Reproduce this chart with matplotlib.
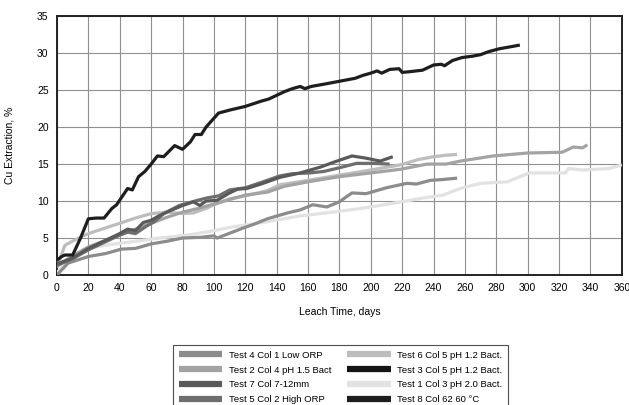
import numpy as np
import matplotlib.pyplot as plt

plt.rcParams["font.family"] = ["Liberation Sans", "DejaVu Sans"]

# leach curves: (days, Cu extraction %)
t8_days = [0, 3, 5, 10, 15, 20, 25, 30, 35, 38, 45, 48, 52, 56, 60, 64, 68, 75, 80, 85, 88, 92, 95, 100, 103,
           110, 120, 130, 135, 140, 145, 150, 155, 158, 162, 170, 180, 190, 195, 200, 204, 207, 212, 218, 220,
           225, 233, 240, 245, 247, 252, 258, 265, 270, 275, 282, 290, 295]
t8_cu = [2.0, 2.5, 2.7, 2.7, 5.0, 7.6, 7.7, 7.7, 9.0, 9.5, 11.7, 11.5, 13.3, 14.0, 15.0, 16.1, 16.0, 17.5, 17.0,
         18.0, 19.0, 19.0, 20.0, 21.2, 21.9, 22.3, 22.8, 23.5, 23.8, 24.3, 24.8, 25.2, 25.5, 25.2, 25.5, 25.8,
         26.2, 26.6, 27.0, 27.3, 27.6, 27.3, 27.8, 27.9, 27.4, 27.5, 27.7, 28.4, 28.5, 28.3, 29.0, 29.4, 29.6,
         29.8, 30.2, 30.6, 30.9, 31.1]

t7_days = [0, 10, 20, 30, 40, 45, 50, 55, 60, 65, 70, 80, 87, 91, 95, 102, 110, 115, 121, 130, 142, 155, 168,
           177, 188, 197, 206, 214]
t7_cu = [1.5, 2.3, 3.6, 4.6, 5.6, 6.2, 6.0, 7.1, 7.4, 8.0, 8.5, 9.4, 9.9, 9.4, 10.0, 10.1, 11.1, 11.6, 11.7,
         12.3, 13.2, 13.8, 14.6, 15.3, 16.1, 15.8, 15.4, 16.0]

t5_days = [0, 10, 20, 30, 40, 45, 50, 57, 62, 68, 78, 88, 95, 103, 110, 120, 130, 142, 150, 161, 170, 180,
           191, 201, 212]
t5_cu = [1.3, 2.2, 3.4, 4.4, 5.4, 5.8, 5.6, 6.6, 7.2, 8.3, 9.4, 10.0, 10.4, 10.7, 11.5, 11.8, 12.5, 13.4,
         13.7, 13.8, 14.0, 14.5, 15.1, 15.1, 15.0]

t6_days = [0, 5, 10, 20, 30, 40, 50, 60, 70, 80, 87, 95, 100, 110, 120, 134, 142, 160, 180, 200, 219, 230,
           240, 248, 255]
t6_cu = [1.0, 4.0, 4.6, 5.6, 6.3, 7.0, 7.7, 8.3, 8.5, 8.3, 8.4, 9.0, 9.5, 10.3, 10.7, 11.4, 12.2, 12.8, 13.5,
         14.2, 14.9, 15.6, 16.0, 16.2, 16.3]

t2_days = [0, 10, 20, 30, 40, 50, 60, 70, 80, 90, 100, 110, 120, 134, 145, 160, 180, 200, 219, 236, 248, 257,
           278, 300, 322, 329, 335, 338]
t2_cu = [1.2, 2.6, 3.8, 4.6, 5.4, 6.2, 7.0, 7.8, 8.5, 9.0, 9.6, 10.2, 10.8, 11.2, 12.0, 12.6, 13.3, 13.8,
         14.3, 15.0, 15.0, 15.4, 16.1, 16.5, 16.6, 17.3, 17.2, 17.6]

t4_days = [0, 7, 20, 31, 41, 50, 60, 71, 80, 92, 100, 102, 107, 118, 126, 134, 147, 155, 163, 172, 180, 188,
           197, 210, 223, 229, 238, 245, 255]
t4_cu = [0.0, 1.6, 2.5, 2.9, 3.5, 3.6, 4.2, 4.6, 5.0, 5.1, 5.3, 5.0, 5.4, 6.3, 6.9, 7.6, 8.4, 8.8, 9.5, 9.2,
         9.9, 11.1, 11.0, 11.8, 12.4, 12.3, 12.8, 12.9, 13.1]

t1_days = [0, 5, 10, 20, 30, 48, 65, 83, 95, 112, 134, 155, 176, 197, 214, 225, 236, 246, 257, 270, 287, 301,
           324, 326, 335, 352, 360]
t1_cu = [0.3, 1.5, 2.5, 3.6, 4.0, 4.5, 5.0, 5.4, 5.8, 6.5, 7.2, 8.0, 8.5, 9.1, 9.7, 10.1, 10.5, 10.8, 11.7,
         12.4, 12.6, 13.8, 13.8, 14.4, 14.2, 14.4, 14.9]

t3_days = []
t3_cu = []

series = [
    ("Test 4 Col 1 Low ORP", t4_days, t4_cu, "#8c8c8c"),
    ("Test 2 Col 4 pH 1.5 Bact", t2_days, t2_cu, "#a3a3a3"),
    ("Test 7 Col 7-12mm", t7_days, t7_cu, "#5a5a5a"),
    ("Test 5 Col 2 High ORP", t5_days, t5_cu, "#6e6e6e"),
    ("Test 6 Col 5 pH 1.2 Bact.", t6_days, t6_cu, "#bdbdbd"),
    ("Test 3 Col 5 pH 1.2 Bact.", t3_days, t3_cu, "#151515"),
    ("Test 1 Col 3 pH 2.0 Bact.", t1_days, t1_cu, "#e2e2e2"),
    ("Test 8 Col 62 60 \u00b0C", t8_days, t8_cu, "#1e1e1e"),
]

fig = plt.figure(figsize=(6.29, 4.05), dpi=100)
ax = fig.add_axes([0.0906, 0.321, 0.898, 0.639])

# draw light curves first so the dark ones sit on top
order = [6, 4, 1, 0, 3, 2, 5, 7]
for i in order:
    name, d, v, c = series[i]
    ax.plot(d, v, color=c, lw=2.3, solid_capstyle="butt", zorder=3)

ax.set_xlim(0, 360)
ax.set_ylim(0, 35)
ax.set_xticks(np.arange(0, 361, 20))
ax.set_yticks(np.arange(0, 36, 5))
ax.grid(True, color="#909090", lw=0.8)
ax.set_axisbelow(True)
for s in ax.spines.values():
    s.set_linewidth(1.4)
    s.set_color("#222222")
ax.tick_params(length=0, labelsize=7.5, pad=6)
ax.set_xlabel("Leach Time, days", fontsize=7.5, labelpad=10)
ax.set_ylabel("Cu Extraction, %", fontsize=7.5, labelpad=16)

# legend handles: thick bars
leg_handles = [plt.Line2D([], [], color=c, lw=4.5, solid_capstyle="butt") for _, _, _, c in series]
leg_labels = [n for n, _, _, _ in series]
leg = fig.legend(leg_handles, leg_labels, loc="upper left", bbox_to_anchor=(0.275, 0.148), ncol=2,
                 fontsize=6.8, frameon=True, fancybox=False, edgecolor="#222222", handlelength=4.6,
                 handletextpad=0.7, columnspacing=1.7, labelspacing=0.62, borderpad=0.6, borderaxespad=0)
leg.get_frame().set_linewidth(0.8)

fig.savefig("out.png", dpi=100)
